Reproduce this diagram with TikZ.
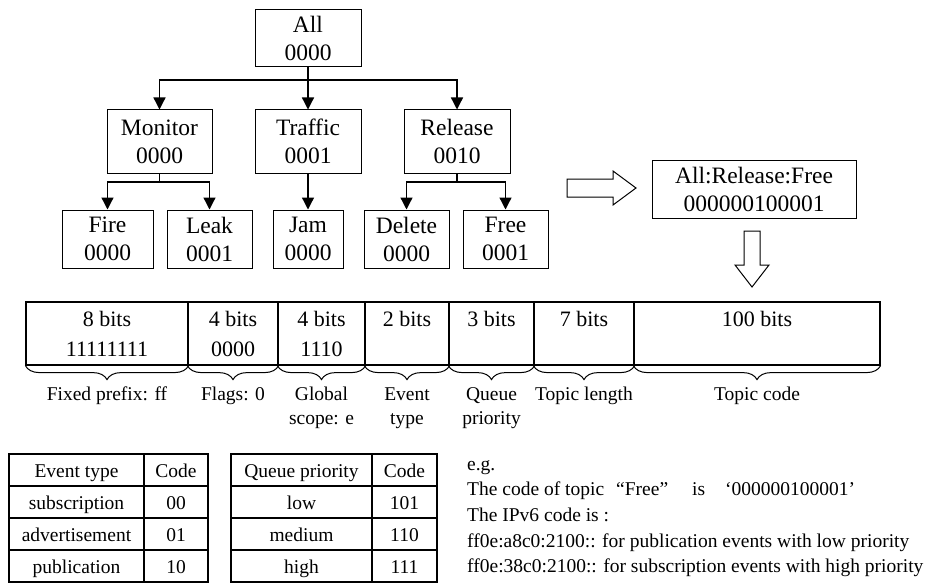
\documentclass[tikz,border=0pt]{standalone}
\usepackage{fontspec}
\setmainfont{Liberation Serif}
\usetikzlibrary{arrows.meta,decorations.pathreplacing}
\newcommand\fTree{\fontsize{23.5}{28}\selectfont}
\newcommand\fField{\fontsize{22}{30}\selectfont}
\newcommand\fSmall{\fontsize{19.5}{24.5}\selectfont}
\begin{document}
\begin{tikzpicture}[x=1pt,y=-1pt,
 tbox/.style={draw, line width=1pt, inner sep=0pt, align=center, font=\fTree},
 fcell/.style={draw, line width=1.2pt, inner sep=0pt, align=center, font=\fField, minimum height=63},
 tcell/.style={draw, line width=1.2pt, inner sep=0pt, align=center, font=\fSmall, minimum height=32, text height=18pt, text depth=4pt},
 conn/.style={line width=1.3pt, -{Triangle[length=12pt,width=12pt]}},
 plainln/.style={line width=1.3pt},
 hollow/.style={draw, line width=1pt, fill=white, line join=miter},
 brc/.style={decorate, decoration={brace, mirror, amplitude=14pt}, line width=1pt},
 blabel/.style={font=\fSmall, align=center, anchor=base, inner sep=0pt},
 extext/.style={font=\fSmall, anchor=base west, inner sep=0pt}
]
\useasboundingbox (0,0) rectangle (931,583);

% tree
\node[tbox, minimum width=106, minimum height=57] (all) at (308,38.5) {All\\0000};
\node[tbox, minimum width=105, minimum height=63] (mon) at (159.5,141.5) {Monitor\\0000};
\node[tbox, minimum width=106, minimum height=63] (tra) at (308,141.5) {Traffic\\0001};
\node[tbox, minimum width=106, minimum height=63] (rel) at (457,141.5) {Release\\0010};
\node[tbox, minimum width=91, minimum height=58] (fire) at (107.5,239) {Fire\\0000};
\node[tbox, minimum width=85, minimum height=58] (leak) at (209.5,239) {Leak\\0001};
\node[tbox, minimum width=70, minimum height=58] (jam) at (308,239) {Jam\\0000};
\node[tbox, minimum width=85, minimum height=58] (del) at (406.5,239) {Delete\\0000};
\node[tbox, minimum width=85, minimum height=58] (free) at (505.5,239) {Free\\0001};
\node[tbox, minimum width=204, minimum height=58] (arf) at (754,189) {All:Release:Free\\000000100001};

\coordinate (j0) at (308,80);
\coordinate (j1) at (159.5,182);
\coordinate (j2) at (457,182);
\draw[plainln] (all.south) -- (j0);
\draw[conn] (j0) -| (mon.north);
\draw[conn] (j0) -- (tra.north);
\draw[conn] (j0) -| (rel.north);
\draw[plainln] (mon.south) -- (j1);
\draw[conn] (j1) -| (fire.north);
\draw[conn] (j1) -| (leak.north);
\draw[conn] (tra.south) -- (jam.north);
\draw[plainln] (rel.south) -- (j2);
\draw[conn] (j2) -| (del.north);
\draw[conn] (j2) -| (free.north);

% hollow arrows
\draw[hollow] (567,179) -- (613,179) -- (613,171) -- (636,188) -- (613,205) -- (613,197) -- (567,197) -- cycle;
\draw[hollow] (744,231) -- (760,231) -- (760,265) -- (769,265) -- (752,287) -- (735,265) -- (744,265) -- cycle;

% field table
\node[fcell, minimum width=162] (f1) at (107,333.5) {8 bits\\11111111};
\node[fcell, minimum width=90] (f2) at (233,333.5) {4 bits\\0000};
\node[fcell, minimum width=87] (f3) at (321.5,333.5) {4 bits\\1110};
\node[fcell, minimum width=84] (f4) at (407,333.5) {2 bits\\\phantom{0}};
\node[fcell, minimum width=85] (f5) at (491.5,333.5) {3 bits\\\phantom{0}};
\node[fcell, minimum width=100] (f6) at (584,333.5) {7 bits\\\phantom{0}};
\node[fcell, minimum width=246] (f7) at (757,333.5) {100 bits\\\phantom{0}};

\foreach \c in {f1,f2,f3,f4,f5,f6,f7}{
  \draw[brc] (\c.south west) -- (\c.south east);
}
\node[blabel] (l1) at (107,400) {Fixed prefix: ff};
\node[blabel] (l2) at (233,400) {Flags: 0};
\node[blabel] (l3) at (321.5,424.5) {Global\\scope: e};
\node[blabel] (l4) at (407,424.5) {Event\\type};
\node[blabel] (l5) at (491.5,424.5) {Queue\\priority};
\node[blabel] (l6) at (584,400) {Topic length};
\node[blabel] (l7) at (757,400) {Topic code};

% event type table
\node[tcell, minimum width=135] (e11) at (76.5,470) {Event type};
\node[tcell, minimum width=64] (e12) at (176,470) {Code};
\node[tcell, minimum width=135] (e21) at (76.5,502) {subscription};
\node[tcell, minimum width=64] (e22) at (176,502) {00};
\node[tcell, minimum width=135] (e31) at (76.5,534) {advertisement};
\node[tcell, minimum width=64] (e32) at (176,534) {01};
\node[tcell, minimum width=135] (e41) at (76.5,566) {publication};
\node[tcell, minimum width=64] (e42) at (176,566) {10};

% queue priority table
\node[tcell, minimum width=141] (q11) at (301.5,470) {Queue priority};
\node[tcell, minimum width=65] (q12) at (404.5,470) {Code};
\node[tcell, minimum width=141] (q21) at (301.5,502) {low};
\node[tcell, minimum width=65] (q22) at (404.5,502) {101};
\node[tcell, minimum width=141] (q31) at (301.5,534) {medium};
\node[tcell, minimum width=65] (q32) at (404.5,534) {110};
\node[tcell, minimum width=141] (q41) at (301.5,566) {high};
\node[tcell, minimum width=65] (q42) at (404.5,566) {111};

% example text
\node[extext] (x1) at (467,470) {e.g.};
\node[extext] (x2) at (467,495.7) {The code of topic\hspace{12pt}“Free”\hspace{24pt}is\hspace{20pt}‘000000100001’};
\node[extext] (x3) at (467,521.4) {The IPv6 code is :};
\node[extext] (x4) at (467,547.1) {ff0e:a8c0:2100:: for publication events with low priority};
\node[extext] (x5) at (467,572.8) {ff0e:38c0:2100:: for subscription events with high priority};
\end{tikzpicture}
\end{document}
